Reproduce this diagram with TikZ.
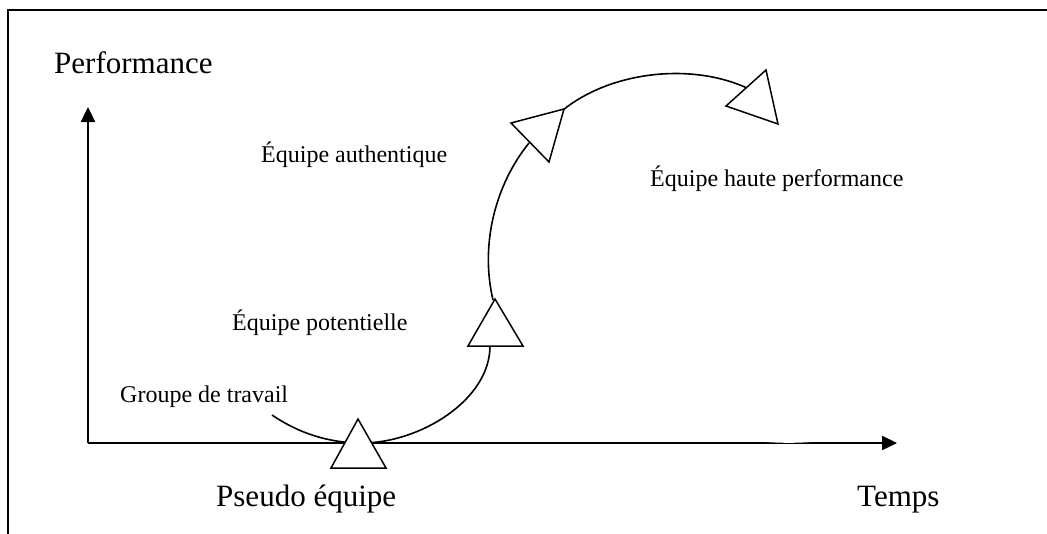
\documentclass[tikz,border=0pt]{standalone}
\usepackage{fontspec}
\setmainfont{Liberation Serif}
\usetikzlibrary{arrows.meta}
\begin{document}
\begin{tikzpicture}[x=1pt,y=-1pt,
  big/.style={anchor=base west,inner sep=0pt,font=\fontsize{31}{34}\selectfont},
  small/.style={anchor=base west,inner sep=0pt,font=\fontsize{24}{27}\selectfont},
  axis/.style={line width=2.4pt,-{Triangle[length=15pt,width=14pt]}},
  curve/.style={line width=1.6pt},
  tri/.style={line width=1.5pt,fill=white,line join=miter}]
\useasboundingbox (0,0) rectangle (1047,533);
% frame
\draw[line width=1.6pt] (1048,10) -- (8,10) -- (8,534);
% axes
\coordinate (O) at (88,443);
\coordinate (Ytip) at (88,107);
\coordinate (Xtip) at (897,443);
\draw[axis] (O) -- (Ytip);
\draw[axis] (O) -- (Xtip);
\fill[white] (762,441.6) .. controls (780,443.2) and (798,443.2) .. (816,441.6) -- cycle;
% curve
\coordinate (c0) at (272,415);
\coordinate (c1) at (362,443);
\coordinate (c2) at (490,346);
\coordinate (c3) at (493,300);
\coordinate (c4) at (529,143);
\coordinate (c5) at (563,110);
\coordinate (c6) at (747,88);
\draw[curve] (c0) .. controls (300,434) and (330,443) .. (c1)
  .. controls (420,443) and (490,400) .. (c2);
\draw[curve] (c3) .. controls (480,245) and (495,185) .. (c4);
\draw[curve] (c5) .. controls (610,72) and (690,62) .. (c6);
% triangles
\draw[tri] (358,419) -- (386,468) -- (331,468) -- cycle;
\draw[tri] (495,299) -- (523,346) -- (468,346) -- cycle;
\draw[tri] (564,109) -- (549,162) -- (511,123) -- cycle;
\draw[tri] (778,124) -- (726,106) -- (766,70) -- cycle;
% labels
\node[big] (perf) at (54,73) {Performance};
\node[big] (pseudo) at (216,506) {Pseudo équipe};
\node[big] (temps) at (857,506) {Temps};
\node[small] (groupe) at (120,402) {Groupe de travail};
\node[small] (potent) at (232,330) {Équipe potentielle};
\node[small] (authen) at (261,162) {Équipe authentique};
\node[small] (haute) at (650,186) {Équipe haute performance};
\end{tikzpicture}
\end{document}
